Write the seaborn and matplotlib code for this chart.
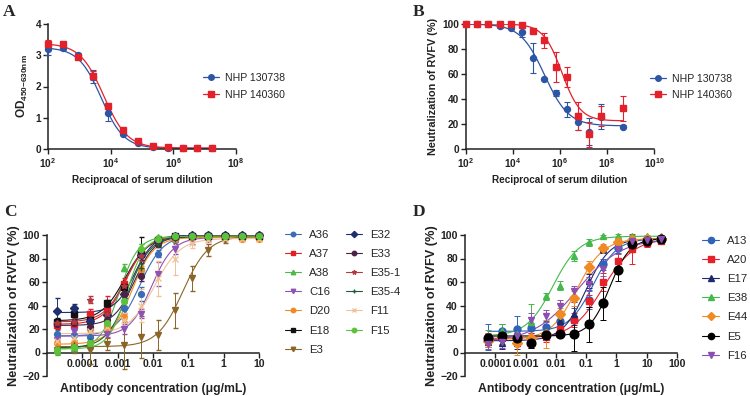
import numpy as np
import pandas as pd
import matplotlib
matplotlib.use('Agg')
import matplotlib.pyplot as plt
import seaborn as sns
from matplotlib.lines import Line2D
from matplotlib.ticker import FixedLocator, FuncFormatter, NullLocator

sns.set_theme(style='ticks')
plt.rcParams['font.family'] = ['Liberation Sans', 'DejaVu Sans']
plt.rcParams['mathtext.fontset'] = 'custom'
plt.rcParams['mathtext.rm'] = 'Liberation Sans'
plt.rcParams['mathtext.bf'] = 'Liberation Sans:bold'
plt.rcParams['mathtext.it'] = 'Liberation Sans:italic'

# ---------------- Panel A data ----------------
a_dilution = [1e2, 3e2, 9e2, 2.7e3, 8.1e3, 2.43e4, 7.29e4, 2.187e5, 6.561e5, 1.9683e6, 5.9049e6, 1.77147e7]
a_names = ['NHP 130738', 'NHP 140360']
a_130738 = [3.20, 3.22, 3.00, 2.32, 1.15, 0.48, 0.18, 0.08, 0.04, 0.03, 0.02, 0.02]
a_130738_err = [0.20, 0.04, 0.08, 0.20, 0.25, 0.04, 0.03, 0.02, 0.02, 0.01, 0.01, 0.01]
a_140360 = [3.35, 3.36, 2.95, 2.35, 1.37, 0.60, 0.25, 0.10, 0.05, 0.04, 0.03, 0.03]
a_140360_err = [0.14, 0.05, 0.07, 0.15, 0.08, 0.05, 0.04, 0.03, 0.02, 0.01, 0.01, 0.01]
a_fit_top = [3.25, 3.38]
a_fit_bottom = [0.02, 0.03]
a_fit_ic50 = [5000, 6000]
a_fit_hill = [1.2, 1.15]

# ---------------- Panel B data ----------------
b_dilution = [1e2, 3e2, 9e2, 2.7e3, 8.1e3, 2.43e4, 7.29e4, 2.187e5, 6.561e5, 1.9683e6,
              5.9049e6, 1.77147e7, 5.31441e7, 4.78297e8]
b_130738 = [100, 100, 100, 98.5, 97, 93.5, 73, 56, 45, 32, 22, 14, 26, 18]
b_130738_err = [0.3, 0.3, 0.5, 1.5, 1.0, 4, 12, 0.8, 2.5, 6, 7, 11, 10, 1.5]
b_140360 = [100, 100, 100, 100, 100, 99.5, 94.5, 87, 66, 58, 26.5, 12, 26.5, 32.5]
b_140360_err = [0.2, 0.2, 0.2, 0.3, 0.5, 0.6, 2, 6, 12, 8, 11, 10, 8, 10]
b_fit_top = [100, 100]
b_fit_bottom = [18.5, 22.5]
b_fit_ic50 = [2.2e5, 1.2e6]
b_fit_hill = [0.85, 1.1]

# ---------------- Panel C data ----------------
c_conc = [1.88e-5, 5.65e-5, 1.69e-4, 5.08e-4, 1.52e-3, 4.57e-3, 1.37e-2, 4.12e-2, 0.123, 0.370, 1.11, 3.33, 10]
c_names = ['A36', 'A37', 'A38', 'C16', 'D20', 'E18', 'E3', 'E32', 'E33', 'E35-1', 'E35-4', 'F11', 'F15']
c_A36 = [16, 15, 13, 23, 38, 50, 84, 96, 99, 100, 100, 100, 100]
c_A37 = [23, 23, 33, 35, 58, 85, 96, 98, 99, 99, 99, 99, 99]
c_A38 = [2, 4, 6, 20, 72, 89, 98, 99, 99, 99, 99, 99, 99]
c_C16 = [11, 18, 20, 16, 20, 33, 67, 88, 95, 97, 98, 98, 98]
c_D20 = [8, 8, 20, 22, 30, 70, 93, 97, 98, 98, 98, 97, 97]
c_E18 = [26, 33, 28, 42, 56, 84, 96, 99, 99, 99, 99, 99, 99]
c_E3 = [2, 4, 2, 7, 6, 13, 15, 36, 63, 87, 96, 98, 99]
c_E32 = [35, 38, 27, 32, 50, 83, 95, 99, 100, 100, 100, 100, 100]
c_E33 = [24, 25, 22, 28, 50, 65, 92, 98, 99, 99, 99, 99, 99]
c_E35_1 = [25, 26, 45, 33, 57, 82, 96, 99, 99, 99, 99, 99, 99]
c_E35_4 = [3, 6, 10, 25, 44, 72, 92, 97, 99, 99, 99, 99, 99]
c_F11 = [10, 12, 18, 22, 28, 40, 63, 80, 93, 96, 97, 97, 97]
c_F15 = [2, 5, 8, 25, 44, 88, 97, 99, 99, 99, 99, 99, 99]
c_A36_err = [3, 4, 4, 4, 4, 6, 3, 2, 1, 1, 0.5, 0.5, 0.5]
c_A37_err = [3, 3, 4, 13, 5, 3, 2, 1, 1, 1, 1, 1, 1]
c_A38_err = [4, 3, 3, 4, 3, 3, 1, 1, 1, 1, 1, 1, 1]
c_C16_err = [3, 3, 3, 3, 4, 4, 10, 4, 3, 2, 1, 1, 1]
c_D20_err = [3, 3, 3, 3, 3, 4, 2, 2, 1, 1, 1, 1, 1]
c_E18_err = [3, 3, 3, 3, 4, 14, 2, 1, 1, 1, 1, 1, 1]
c_E3_err = [3, 4, 12, 5, 20, 18, 13, 15, 11, 5, 3, 2, 1]
c_E32_err = [11, 3, 3, 3, 4, 4, 3, 1, 1, 1, 1, 1, 1]
c_E33_err = [3, 3, 3, 3, 4, 4, 2, 1, 1, 1, 1, 1, 1]
c_E35_1_err = [3, 3, 3, 3, 4, 4, 2, 1, 1, 1, 1, 1, 1]
c_E35_4_err = [3, 3, 3, 3, 4, 4, 2, 1, 1, 1, 1, 1, 1]
c_F11_err = [3, 3, 4, 5, 6, 14, 15, 14, 4, 2, 1, 1, 1]
c_F15_err = [3, 3, 3, 3, 4, 4, 2, 1, 1, 1, 1, 1, 1]
c_fit_bottom = [14, 24, 3, 14, 7, 27, 5, 34, 23, 26, 4, 16, 3]
c_fit_top = [100, 99, 99, 98, 98, 99, 99, 100, 99, 99, 99, 97, 99]
c_fit_ec50 = [0.0042, 0.0017, 0.0011, 0.009, 0.0025, 0.0016, 0.07, 0.003, 0.003, 0.0017, 0.002, 0.011, 0.0018]
c_fit_hill = [1.3, 1.4, 1.6, 1.4, 1.4, 1.3, 1.2, 1.6, 1.5, 1.4, 1.4, 1.2, 1.7]

# ---------------- Panel D data ----------------
d_conc = [5.65e-5, 1.69e-4, 5.08e-4, 1.52e-3, 4.57e-3, 1.37e-2, 4.12e-2, 0.123, 0.370, 1.11, 3.33, 10, 30]
d_names = ['A13', 'A20', 'E17', 'E38', 'E44', 'E5', 'F16']
d_A13 = [13, 18, 20, 21, 22, 27, 28, 45, 75, 89, 94, 96, 97]
d_A20 = [12, 14, 13, 12, 13, 20, 28, 44, 60, 78, 88, 93, 95]
d_E17 = [9, 8, 8, 10, 16, 27, 33, 61, 88, 94, 96, 97, 97]
d_E38 = [13, 18, 16, 26, 48, 57, 82, 94, 99, 99.5, 99, 99, 99]
d_E44 = [10, 13, 8, 12, 16, 33, 46, 73, 89, 94, 96, 97, 97]
d_E5 = [12, 14, 12, 8, 15, 16, 16, 24, 42, 70, 92, 95, 97]
d_F16 = [7, 9, 14, 28, 31, 40, 52, 58, 71, 88, 95, 96, 97]
d_A13_err = [11, 6, 11, 4, 5, 6, 10, 8, 5, 4, 2, 1, 1]
d_A20_err = [5, 4, 4, 5, 4, 4, 6, 5, 8, 10, 13, 3, 2]
d_E17_err = [4, 5, 5, 4, 5, 4, 10, 6, 3, 2, 1, 1, 1]
d_E38_err = [6, 6, 5, 15, 3, 4, 4, 3, 1, 1, 1, 1, 1]
d_E44_err = [5, 6, 10, 8, 12, 5, 6, 5, 3, 2, 1, 1, 1]
d_E5_err = [4, 4, 4, 4, 3, 3, 15, 15, 14, 9, 4, 2, 1]
d_F16_err = [4, 5, 5, 6, 5, 5, 5, 6, 6, 4, 2, 1, 1]
d_fit_bottom = [18, 12, 10, 14, 11, 14, 9]
d_fit_top = [97, 97, 97, 99, 97, 97, 97]
d_fit_ec50 = [0.17, 0.35, 0.1, 0.008, 0.05, 0.6, 0.05]
d_fit_hill = [1.1, 0.85, 1.1, 1.0, 1.0, 1.3, 0.6]

# ---------------- styles ----------------
ab_colors = ['#2c55a3', '#e2212a']
ab_markers = ['o', 's']
c_colors = ['#3a6db5', '#e41f26', '#4cb848', '#8e52b5', '#f08a24', '#111111', '#8b6428',
            '#1f2f6e', '#4a2345', '#b5383f', '#1f5a3a', '#f0c29a', '#5cc23a']
c_markers = ['o', 's', '^', 'v', 'o', 's', 'v', 'D', 'o', '*', '+', 'x', 'o']
d_colors = ['#2f63b8', '#e8202a', '#1f2a6b', '#44b84a', '#f08a24', '#000000', '#8a4fb0']
d_markers = ['o', 's', '^', '^', 'D', 'o', 'v']

W, H = 750, 396
fig = plt.figure(figsize=(7.5, 3.96), dpi=100)


def ax_at(x0, y_top, x1, y_bot):
    return fig.add_axes([x0 / W, 1 - y_bot / H, (x1 - x0) / W, (y_bot - y_top) / H])


def fit_df(xs, bottom, top, mid, hill, rising):
    xf = np.logspace(np.log10(xs[0]), np.log10(xs[-1]), 300)
    if rising:
        yf = bottom + (top - bottom) / (1 + (mid / xf) ** hill)
    else:
        yf = bottom + (top - bottom) / (1 + (xf / mid) ** hill)
    return pd.DataFrame({'x': xf, 'y': yf})


def style_axes(ax, size):
    sns.despine(ax=ax)
    for s in ['left', 'bottom']:
        ax.spines[s].set_linewidth(1.1)
        ax.spines[s].set_color('#222222')
    ax.tick_params(axis='both', which='major', length=3.5, width=1.0, labelsize=size,
                   pad=1.5, colors='#222222')
    for lab in ax.get_xticklabels() + ax.get_yticklabels():
        lab.set_fontweight('bold')
    ax.xaxis.set_minor_locator(NullLocator())
    ax.set_facecolor('none')


pow_fmt = FuncFormatter(lambda v, p: r'$\mathbf{10^{%d}}$' % round(np.log10(v)))
dec_fmt = FuncFormatter(lambda v, p: ('%g' % v))

lblkw = dict(fontsize=7.2, fontweight='bold', color='#222222')
lblkw2 = dict(fontsize=8.8, fontweight='bold', color='#222222')

# ---------------- Panel A ----------------
axA = ax_at(48, 24, 236, 149)
a_series = [(a_130738, a_130738_err), (a_140360, a_140360_err)]
for i, (vals, errs) in enumerate(a_series):
    df = fit_df(a_dilution, a_fit_bottom[i], a_fit_top[i], a_fit_ic50[i], a_fit_hill[i], False)
    sns.lineplot(data=df, x='x', y='y', ax=axA, color=ab_colors[i], lw=0.9, legend=False)
    axA.errorbar(a_dilution, vals, yerr=errs, fmt=ab_markers[i], color=ab_colors[i], ms=4.3,
                 elinewidth=0.8, capsize=2, capthick=0.8, clip_on=False, zorder=3)
axA.set_xscale('log')
axA.set_xlim(1e2, 1e8)
axA.set_ylim(0, 4)
axA.xaxis.set_major_locator(FixedLocator([1e2, 1e4, 1e6, 1e8]))
axA.xaxis.set_major_formatter(pow_fmt)
axA.set_yticks([0, 1, 2, 3, 4])
axA.set_xlabel('Reciproacal of serum dilution', labelpad=4, **lblkw)
axA.set_ylabel(r'$\mathbf{OD_{450{-}630nm}}$', labelpad=4, fontsize=8.5, color='#222222')
style_axes(axA, 7.3)
hA = [Line2D([], [], color=ab_colors[i], marker=ab_markers[i], ms=4, lw=0.9) for i in range(2)]
axA.legend(hA, a_names, loc='upper left', bbox_to_anchor=(203 / W, 1 - 73 / H),
           bbox_transform=fig.transFigure, frameon=False, fontsize=7.6, borderpad=0,
           borderaxespad=0, handlelength=1.5, handletextpad=0.6, labelspacing=0.62)

# ---------------- Panel B ----------------
axB = ax_at(466, 24, 654, 149)
b_series = [(b_130738, b_130738_err), (b_140360, b_140360_err)]
for i, (vals, errs) in enumerate(b_series):
    df = fit_df(b_dilution, b_fit_bottom[i], b_fit_top[i], b_fit_ic50[i], b_fit_hill[i], False)
    sns.lineplot(data=df, x='x', y='y', ax=axB, color=ab_colors[i], lw=0.9, legend=False)
    axB.errorbar(b_dilution, vals, yerr=errs, fmt=ab_markers[i], color=ab_colors[i], ms=4.3,
                 elinewidth=0.8, capsize=2, capthick=0.8, clip_on=False, zorder=3)
axB.set_xscale('log')
axB.set_xlim(1e2, 1e10)
axB.set_ylim(0, 100)
axB.xaxis.set_major_locator(FixedLocator([1e2, 1e4, 1e6, 1e8, 1e10]))
axB.xaxis.set_major_formatter(pow_fmt)
axB.set_yticks([0, 20, 40, 60, 80, 100])
axB.set_xlabel('Reciprocal of serum dilution', labelpad=4, **lblkw)
axB.set_ylabel('Neutralization of RVFV (%)', labelpad=3, fontsize=7.8, fontweight='bold',
               color='#222222')
style_axes(axB, 7.3)
hB = [Line2D([], [], color=ab_colors[i], marker=ab_markers[i], ms=4, lw=0.9) for i in range(2)]
axB.legend(hB, a_names, loc='upper left', bbox_to_anchor=(650 / W, 1 - 74 / H),
           bbox_transform=fig.transFigure, frameon=False, fontsize=7.6, borderpad=0,
           borderaxespad=0, handlelength=1.5, handletextpad=0.6, labelspacing=0.55)

# ---------------- Panel C ----------------
axC = ax_at(47, 235, 259, 376)
c_vals = [c_A36, c_A37, c_A38, c_C16, c_D20, c_E18, c_E3, c_E32, c_E33, c_E35_1, c_E35_4, c_F11, c_F15]
c_errs = [c_A36_err, c_A37_err, c_A38_err, c_C16_err, c_D20_err, c_E18_err, c_E3_err, c_E32_err,
          c_E33_err, c_E35_1_err, c_E35_4_err, c_F11_err, c_F15_err]
for i in range(len(c_names)):
    df = fit_df(c_conc, c_fit_bottom[i], c_fit_top[i], c_fit_ec50[i], c_fit_hill[i], True)
    sns.lineplot(data=df, x='x', y='y', ax=axC, color=c_colors[i], lw=0.8, legend=False)
    axC.errorbar(c_conc, c_vals[i], yerr=c_errs[i], fmt=c_markers[i], color=c_colors[i], ms=4.2,
                 mew=1.0, elinewidth=0.7, capsize=1.8, capthick=0.7, clip_on=False, zorder=3)
axC.set_xscale('log')
axC.set_xlim(1e-5, 10)
axC.set_ylim(-20, 100)
axC.spines['bottom'].set_position(('data', 0))
axC.xaxis.set_major_locator(FixedLocator([1e-4, 1e-3, 1e-2, 1e-1, 1, 10]))
axC.xaxis.set_major_formatter(dec_fmt)
axC.set_yticks([-20, 0, 20, 40, 60, 80, 100])
axC.set_xlabel('Antibody concentration (μg/mL)', **lblkw2)
axC.xaxis.set_label_coords(0.5, -0.05)
axC.set_ylabel('Neutralization of RVFV (%)', labelpad=2, fontsize=9.2, fontweight='bold',
               color='#222222')
style_axes(axC, 7.6)
hC = [Line2D([], [], color=c_colors[i], marker=c_markers[i], ms=3.2, mew=1.0, lw=0.8)
      for i in range(len(c_names))]
axC.legend(hC, c_names, loc='upper left', bbox_to_anchor=(285 / W, 1 - 230 / H),
           bbox_transform=fig.transFigure, frameon=False, fontsize=8.2, ncol=2, borderpad=0,
           borderaxespad=0, handlelength=1.4, handletextpad=0.7, labelspacing=0.8,
           columnspacing=1.4)

# ---------------- Panel D ----------------
axD = ax_at(465, 235, 677, 376)
d_vals = [d_A13, d_A20, d_E17, d_E38, d_E44, d_E5, d_F16]
d_errs = [d_A13_err, d_A20_err, d_E17_err, d_E38_err, d_E44_err, d_E5_err, d_F16_err]
for i in range(len(d_names)):
    df = fit_df(d_conc, d_fit_bottom[i], d_fit_top[i], d_fit_ec50[i], d_fit_hill[i], True)
    sns.lineplot(data=df, x='x', y='y', ax=axD, color=d_colors[i], lw=0.8, legend=False)
    ms = 6.3 if d_names[i] == 'E5' else 5.0
    axD.errorbar(d_conc, d_vals[i], yerr=d_errs[i], fmt=d_markers[i], color=d_colors[i], ms=ms,
                 elinewidth=0.7, capsize=2, capthick=0.7, clip_on=False, zorder=3)
axD.set_xscale('log')
axD.set_xlim(1e-5, 100)
axD.set_ylim(-20, 100)
axD.spines['bottom'].set_position(('data', 0))
axD.xaxis.set_major_locator(FixedLocator([1e-4, 1e-3, 1e-2, 1e-1, 1, 10, 100]))
axD.xaxis.set_major_formatter(dec_fmt)
axD.set_yticks([-20, 0, 20, 40, 60, 80, 100])
axD.set_xlabel('Antibody concentration (μg/mL)', **lblkw2)
axD.xaxis.set_label_coords(0.5, -0.05)
axD.set_ylabel('Neutralization of RVFV (%)', labelpad=2, fontsize=9.2, fontweight='bold',
               color='#222222')
style_axes(axD, 7.6)
hD = [Line2D([], [], color=d_colors[i], marker=d_markers[i], ms=4.5, lw=0.8)
      for i in range(len(d_names))]
axD.legend(hD, d_names, loc='upper left', bbox_to_anchor=(702 / W, 1 - 236 / H),
           bbox_transform=fig.transFigure, frameon=False, fontsize=8.2, borderpad=0,
           borderaxespad=0, handlelength=1.5, handletextpad=0.7, labelspacing=0.8)

# ---------------- Panel letters ----------------
for letter, px, py in [('A', 3, 4), ('B', 413, 4), ('C', 4, 204), ('D', 413, 204)]:
    fig.text(px / W, 1 - py / H, letter, fontsize=12.5, fontweight='bold',
             family=['Liberation Serif', 'DejaVu Serif'], va='top', ha='left')

fig.savefig('out.png', dpi=100)
